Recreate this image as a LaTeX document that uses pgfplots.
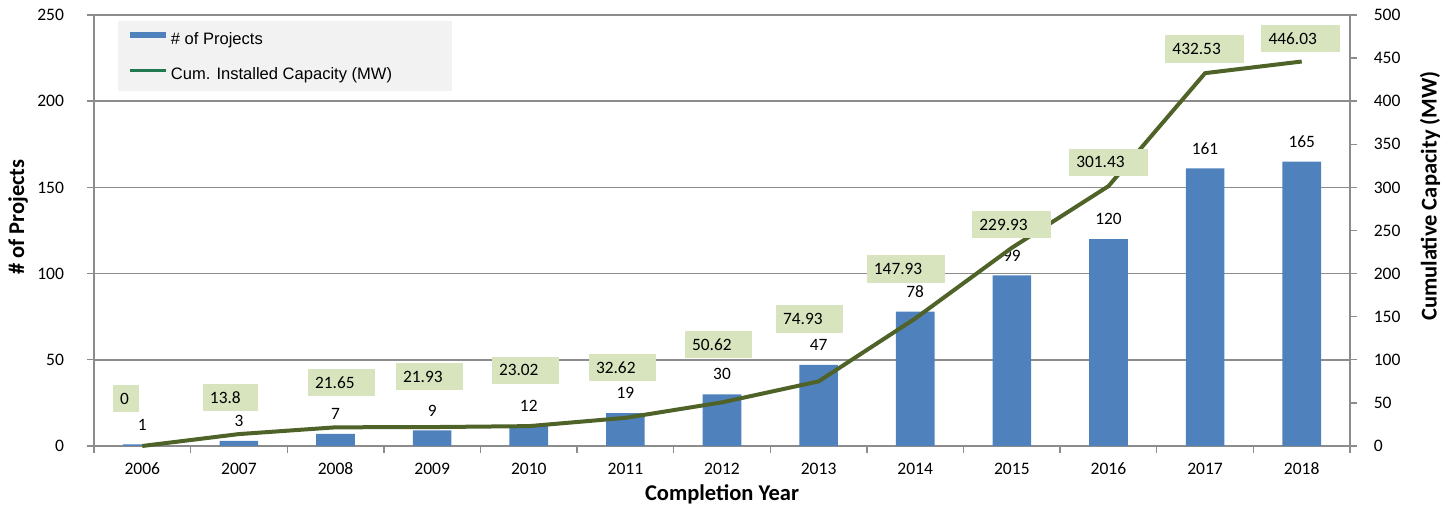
\documentclass[border=0pt]{standalone}
\usepackage{fontspec}
\setmainfont{Carlito}[BoldFont={Carlito Bold}]
\newfontfamily\carlitobold{Carlito Bold}
\newfontfamily\arialfont{Liberation Sans}
\usepackage{pgfplots}
\pgfplotsset{compat=1.18}
\definecolor{barblue}{HTML}{4F81BD}
\definecolor{lineolive}{HTML}{4F6228}
\definecolor{lblbox}{HTML}{D7E4BD}
\definecolor{legbg}{HTML}{F2F2F2}
\definecolor{leggreen}{HTML}{21794F}
\definecolor{axgray}{HTML}{8C8C8C}
\pgfplotsset{/pgf/number format/assume math mode=true}
\newcommand{\lbl}[1]{\makebox[1.33\width][l]{#1}}
\tikzset{vbox/.style={fill=lblbox, inner xsep=3.6bp, inner ysep=0pt, minimum height=13.75bp, font=\fontsize{8.7}{10}\selectfont}}
\begin{document}
\begin{tikzpicture}
\pgfplotsset{
  common/.style={
    scale only axis, width=628bp, height=215.5bp,
    xmin=-0.5, xmax=12.5,
    tick align=outside,
    major tick length=3.5bp,
    tick style={axgray, line width=0.7bp},
    axis line style={axgray, line width=0.8bp},
    tick label style={font=\fontsize{8.8}{10}\selectfont},
  },
}
\begin{axis}[common,
  ybar, bar width=0.4,
  ymin=0, ymax=250, ytick={0,50,...,250},
  axis x line*=bottom, axis y line*=left,
  ymajorgrids, grid style={axgray, line width=0.8bp},
  xtick={-0.5,0.5,...,12.5}, xticklabels={},
  extra x ticks={0,1,2,3,4,5,6,7,8,9,10,11,12},
  extra x tick labels={2006,2007,2008,2009,2010,2011,2012,2013,2014,2015,2016,2017,2018},
  extra x tick style={major tick length=0pt, grid=none},
  xticklabel shift=5bp,
  yticklabel shift=8bp,
  xlabel={Completion Year},
  ylabel={\# of Projects},
  every axis x label/.style={at={(axis description cs:0.5,-0.1125)}, anchor=center, font=\carlitobold\fontsize{11.3}{13}\selectfont},
  every axis y label/.style={at={(axis description cs:-0.0605,0.531)}, anchor=center, rotate=90, font=\carlitobold\fontsize{11.3}{13}\selectfont},
  nodes near coords,
  every node near coord/.append style={font=\fontsize{8.7}{10}\selectfont, black, yshift=3.6bp},
  clip=false,
]
\addplot[fill=barblue, draw=none] coordinates {
  (0,1) (1,3) (2,7) (3,9) (4,12) (5,19) (6,30) (7,47) (8,78) (9,99) (10,120) (11,161) (12,165)
};
\fill[legbg] (axis description cs:0.0191,0.8225) rectangle (axis description cs:0.285,0.985);
\end{axis}
\begin{axis}[common,
  ymin=0, ymax=500, ytick={0,50,...,500},
  axis y line*=right, axis x line=none,
  yticklabel shift=4.9bp,
  ylabel={Cumulative Capacity (MW)},
  every axis y label/.style={at={(axis description cs:1.0637,0.58)}, anchor=center, rotate=90, font=\carlitobold\fontsize{11.3}{13}\selectfont},
  clip=false,
  legend style={draw=none, fill=none, at={(axis description cs:0.0259,0.965)}, anchor=north west,
    font=\arialfont\fontsize{8.3}{10}\selectfont, row sep=8bp, inner sep=0pt, nodes={inner sep=1bp}},
  legend cell align=left,
  legend image code/.code={\draw[#1] (0bp,2.3bp) -- (18bp,2.3bp);},
]
\addlegendimage{barblue, line width=3bp}
\addlegendentry{\# of Projects}
\addlegendimage{leggreen, line width=1.6bp}
\addlegendentry{Cum. Installed Capacity (MW)}
\addplot[lineolive, line width=2bp, line join=round, forget plot] coordinates {
  (0,0) (1,13.8) (2,21.65) (3,21.93) (4,23.02) (5,32.62) (6,50.62) (7,74.93) (8,147.93) (9,229.93) (10,301.43) (11,432.53) (12,446.03)
};
\node[vbox] at (axis cs:-0.17,55.1) {\lbl{0}};
\node[vbox] at (axis cs:0.912,56.3) {\lbl{13.8}};
\node[vbox] at (axis cs:2.061,73.7) {\lbl{21.65}};
\node[vbox] at (axis cs:2.972,80.6) {\lbl{21.93}};
\node[vbox] at (axis cs:3.964,87.8) {\lbl{23.02}};
\node[vbox] at (axis cs:4.968,91.3) {\lbl{32.62}};
\node[vbox] at (axis cs:5.962,117.7) {\lbl{50.62}};
\node[vbox] at (axis cs:6.904,147.1) {\lbl{74.93}};
\node[vbox] at (axis cs:7.905,205.3) {\lbl{147.93}};
\node[vbox] at (axis cs:8.997,257) {\lbl{229.93}};
\node[vbox] at (axis cs:10.0,329.1) {\lbl{301.43}};
\node[vbox] at (axis cs:10.995,460.6) {\lbl{432.53}};
\node[vbox] at (axis cs:11.99,472.7) {\lbl{446.03}};
\end{axis}
\pgfresetboundingbox
\path ([shift={(-47bp,-31bp)}]current axis.south west) rectangle ([shift={(51bp,7.5bp)}]current axis.north east);
\end{tikzpicture}
\end{document}
